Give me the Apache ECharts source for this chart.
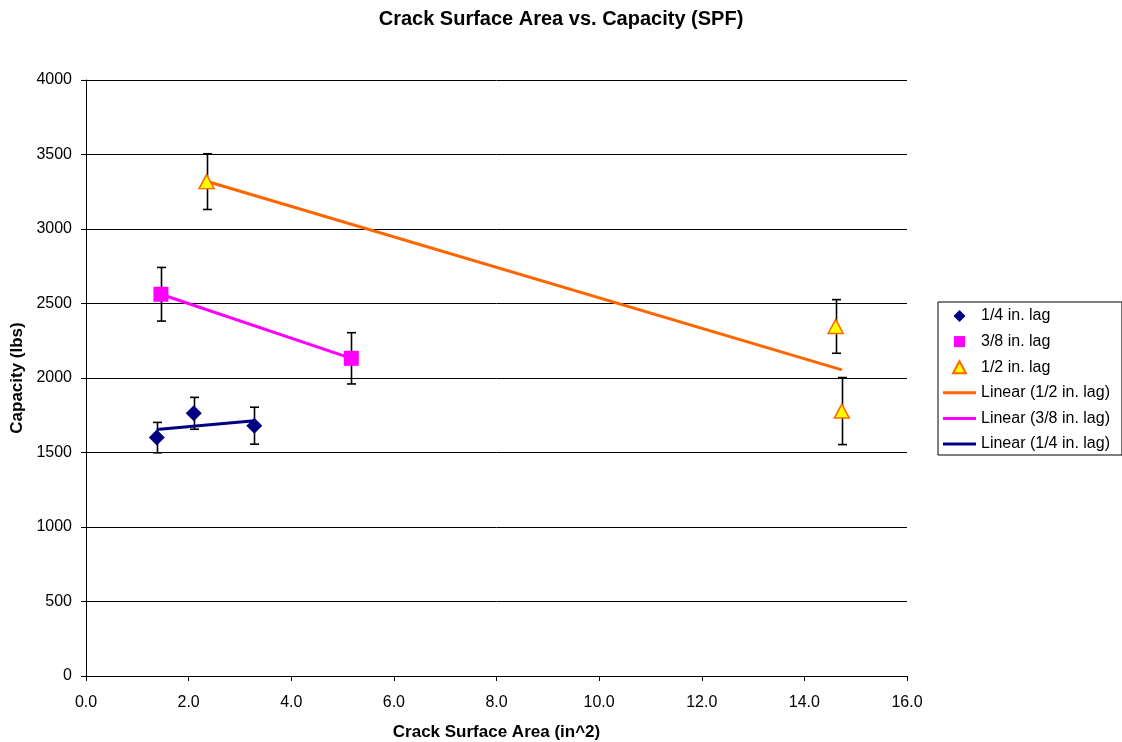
<!DOCTYPE html>
<html>
<head>
<meta charset="utf-8">
<script src="https://cdn.jsdelivr.net/npm/echarts@6/dist/echarts.min.js"></script>
<style>html,body{margin:0;padding:0;background:#fff;}#c{width:1122px;height:742px;}</style>
</head>
<body>
<div id="c"></div>
<script>
// ---- data ----
var quarterX = [1.38, 2.10, 3.28];
var quarterY = [1600, 1763, 1680];
var quarterErr = [102, 107, 124];

var threeEighthX = [1.46, 5.17];
var threeEighthY = [2562, 2132];
var threeEighthErr = [180, 172];

var halfX = [2.35, 14.61, 14.73];
var halfY = [3318, 2346, 1778];
var halfErr = [187, 180, 225];

var xTicks = [0, 2, 4, 6, 8, 10, 12, 14, 16];
var yTicks = [0, 500, 1000, 1500, 2000, 2500, 3000, 3500, 4000];

var FONT = 'Liberation Sans, Arial, sans-serif';

function pts(xs, ys) { return xs.map(function (x, i) { return [x, ys[i]]; }); }
function errPts(xs, ys, es) { return xs.map(function (x, i) { return [x, ys[i], es[i]]; }); }
function trend(xs, ys) {
  var n = xs.length, mx = 0, my = 0;
  for (var i = 0; i < n; i++) { mx += xs[i]; my += ys[i]; }
  mx /= n; my /= n;
  var sxy = 0, sxx = 0;
  for (var j = 0; j < n; j++) { sxy += (xs[j] - mx) * (ys[j] - my); sxx += (xs[j] - mx) * (xs[j] - mx); }
  var b = sxy / sxx, a = my - b * mx;
  var x0 = Math.min.apply(null, xs), x1 = Math.max.apply(null, xs);
  return [[x0, a + b * x0], [x1, a + b * x1]];
}

function errSeries(name, xs, ys, es) {
  return {
    name: name, type: 'custom', z: 1, silent: true,
    data: errPts(xs, ys, es),
    renderItem: function (params, api) {
      var x = api.value(0), y = api.value(1), e = api.value(2);
      var top = api.coord([x, y + e]), bot = api.coord([x, y - e]);
      var cx = Math.round(top[0]) + 0.5;
      var cap = 4.5;
      var st = { stroke: '#000', lineWidth: 1.6 };
      return {
        type: 'group', children: [
          { type: 'line', shape: { x1: cx, y1: top[1], x2: cx, y2: bot[1] }, style: st },
          { type: 'line', shape: { x1: cx - cap, y1: top[1], x2: cx + cap, y2: top[1] }, style: st },
          { type: 'line', shape: { x1: cx - cap, y1: bot[1], x2: cx + cap, y2: bot[1] }, style: st }
        ]
      };
    }
  };
}

var diamondIcon = 'path://M0,0M33,12M16.5,0L22.5,6L16.5,12L10.5,6Z';
var squareIcon = 'path://M0,0M33,12M11,0.5L22,0.5L22,11.5L11,11.5Z';
var triIcon = 'path://M0,0M33,12M16.5,0L23,12L10,12Z';
var lineIcon = 'path://M0,0M33,12M0,4.5L33,4.5L33,7.5L0,7.5Z';

var chart = echarts.init(document.getElementById('c'));
chart.setOption({
  animation: false,
  backgroundColor: '#fff',
  textStyle: { fontFamily: FONT },
  title: {
    text: 'Crack Surface Area vs. Capacity (SPF)',
    left: 'center', top: 4,
    textStyle: { fontFamily: FONT, fontSize: 20, fontWeight: 'bold', color: '#000' }
  },
  grid: { left: 86, right: 215, top: 80, bottom: 66, containLabel: false, outerBoundsMode: 'none' },
  legend: {
    orient: 'vertical', left: 938, top: 302,
    itemWidth: 33, itemHeight: 12, itemGap: 9.6,
    padding: [6, 12, 3, 4],
    borderColor: '#000', borderWidth: 1,
    textStyle: { fontFamily: FONT, fontSize: 16, color: '#000' },
    data: [
      { name: '1/4 in. lag', icon: diamondIcon },
      { name: '3/8 in. lag', icon: squareIcon },
      { name: '1/2 in. lag', icon: triIcon },
      { name: 'Linear (1/2 in. lag)', icon: lineIcon, itemStyle: { color: '#FF6600' } },
      { name: 'Linear (3/8 in. lag)', icon: lineIcon, itemStyle: { color: '#FF00FF' } },
      { name: 'Linear (1/4 in. lag)', icon: lineIcon, itemStyle: { color: '#000080' } }
    ]
  },
  xAxis: {
    type: 'value', min: xTicks[0], max: xTicks[xTicks.length - 1], interval: xTicks[1] - xTicks[0],
    name: 'Crack Surface Area (in^2)', nameLocation: 'middle', nameGap: 48,
    nameTextStyle: { fontFamily: FONT, fontSize: 17, fontWeight: 'bold', color: '#000' },
    axisLine: { lineStyle: { color: '#000', width: 1 } },
    axisTick: { show: true, inside: false, length: 5, lineStyle: { color: '#000' } },
    axisLabel: { fontFamily: FONT, fontSize: 16, color: '#000', margin: 19, formatter: function (v) { return v.toFixed(1); } },
    splitLine: { show: false }
  },
  yAxis: {
    type: 'value', min: yTicks[0], max: yTicks[yTicks.length - 1], interval: yTicks[1] - yTicks[0],
    name: 'Capacity (lbs)', nameLocation: 'middle', nameGap: 56, nameRotate: 90,
    nameTextStyle: { fontFamily: FONT, fontSize: 17, fontWeight: 'bold', color: '#000' },
    axisLine: { show: true, lineStyle: { color: '#000', width: 1 } },
    axisTick: { show: true, inside: false, length: 5, lineStyle: { color: '#000' } },
    axisLabel: { fontFamily: FONT, fontSize: 16, color: '#000', margin: 14, formatter: function (v) { return String(v); } },
    splitLine: { show: true, lineStyle: { color: '#000', width: 1 } }
  },
  series: [
    errSeries('err14', quarterX, quarterY, quarterErr),
    errSeries('err38', threeEighthX, threeEighthY, threeEighthErr),
    errSeries('err12', halfX, halfY, halfErr),
    {
      name: 'Linear (1/2 in. lag)', type: 'line', z: 2, symbol: 'none', silent: true,
      data: trend(halfX, halfY), lineStyle: { color: '#FF6600', width: 3 }, itemStyle: { color: '#FF6600' }
    },
    {
      name: 'Linear (3/8 in. lag)', type: 'line', z: 2, symbol: 'none', silent: true,
      data: trend(threeEighthX, threeEighthY), lineStyle: { color: '#FF00FF', width: 3 }, itemStyle: { color: '#FF00FF' }
    },
    {
      name: 'Linear (1/4 in. lag)', type: 'line', z: 2, symbol: 'none', silent: true,
      data: trend(quarterX, quarterY), lineStyle: { color: '#000080', width: 3 }, itemStyle: { color: '#000080' }
    },
    {
      name: '1/4 in. lag', type: 'scatter', z: 3, symbol: 'diamond', symbolSize: 16,
      data: pts(quarterX, quarterY), itemStyle: { color: '#000080', opacity: 1 }
    },
    {
      name: '3/8 in. lag', type: 'scatter', z: 3, symbol: 'rect', symbolSize: 15,
      data: pts(threeEighthX, threeEighthY), itemStyle: { color: '#FF00FF', opacity: 1 }
    },
    {
      name: '1/2 in. lag', type: 'scatter', z: 3, symbol: 'triangle', symbolSize: [15, 14],
      data: pts(halfX, halfY), itemStyle: { color: '#FFFF00', borderColor: '#FF6600', borderWidth: 1.5, opacity: 1 }
    }
  ]
});
</script>
</body>
</html>
